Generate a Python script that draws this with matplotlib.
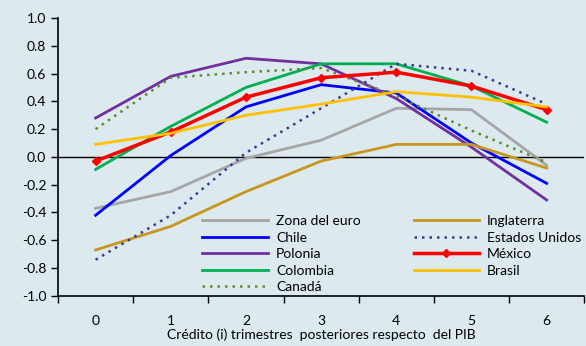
import matplotlib
matplotlib.use("Agg")
import matplotlib.pyplot as plt

x = [0, 1, 2, 3, 4, 5, 6]
xlabels = ["0", "1", "2", "3", "4", "5", "6"]

zona_euro = [-0.37, -0.25, -0.01, 0.12, 0.35, 0.34, -0.06]
chile = [-0.42, 0.01, 0.36, 0.52, 0.46, 0.10, -0.19]
polonia = [0.28, 0.58, 0.71, 0.67, 0.42, 0.07, -0.31]
colombia = [-0.09, 0.22, 0.50, 0.67, 0.67, 0.51, 0.25]
canada = [0.20, 0.57, 0.61, 0.64, 0.44, 0.19, -0.04]
inglaterra = [-0.67, -0.50, -0.25, -0.03, 0.09, 0.09, -0.08]
eeuu = [-0.74, -0.42, 0.03, 0.35, 0.67, 0.62, 0.38]
mexico = [-0.03, 0.18, 0.43, 0.57, 0.61, 0.51, 0.34]
brasil = [0.09, 0.17, 0.30, 0.38, 0.47, 0.43, 0.36]

plt.rcParams["font.family"] = ["Lato", "DejaVu Sans"]
bg = "#dce9ee"
fig = plt.figure(figsize=(5.86, 3.46), dpi=100, facecolor=bg)
ax = fig.add_axes([0.099, 0.145, 0.898, 0.803], facecolor=bg)

ax.axhline(0, color="black", lw=1.0, zorder=1)
ax.plot(x, zona_euro, color="#a6a6a6", lw=2, label="Zona del euro")
ax.plot(x, chile, color="#0000ff", lw=2, label="Chile")
ax.plot(x, polonia, color="#7030a0", lw=2, label="Polonia")
ax.plot(x, colombia, color="#00b050", lw=2, label="Colombia")
ax.plot(x, canada, color="#5f8a30", lw=1.8, ls=(0, (1, 2)), label="Canadá")
ax.plot(x, inglaterra, color="#c8961e", lw=2, label="Inglaterra")
ax.plot(x, eeuu, color="#3a3a9a", lw=1.8, ls=(0, (1, 2)), label="Estados Unidos")
ax.plot(x, mexico, color="#ff0000", lw=2.5, marker="D", ms=4, label="México")
ax.plot(x, brasil, color="#ffc000", lw=2, label="Brasil")

ax.set_xlim(-0.5, 6.5)
ax.set_ylim(-1.0, 1.0)
ax.set_yticks([-1.0, -0.8, -0.6, -0.4, -0.2, 0.0, 0.2, 0.4, 0.6, 0.8, 1.0])
ax.set_yticklabels([f"{v:.1f}" for v in ax.get_yticks()], fontsize=10)
ax.set_xticks(x)
ax.set_xticklabels(xlabels, fontsize=10)
ax.set_xticks([i - 0.5 for i in range(8)], minor=True)
ax.tick_params(axis="x", which="major", length=0, pad=14)
ax.tick_params(axis="x", which="minor", length=5, width=1, direction="out")
ax.tick_params(axis="y", length=5, width=1, direction="out")
for s in ["top", "right"]:
    ax.spines[s].set_visible(False)
ax.spines["left"].set_linewidth(1.2)
ax.spines["bottom"].set_linewidth(1.2)
ax.set_xlabel("Crédito (i) trimestres  posteriores respecto  del PIB", fontsize=10, labelpad=1)

ax.legend(ncol=2, frameon=False, fontsize=10, loc="upper left",
          bbox_to_anchor=(0.264, 0.31), handlelength=4.7, handletextpad=0.6,
          columnspacing=3.8, labelspacing=0.32, borderaxespad=0)

fig.savefig("out.png", dpi=100, facecolor=bg)
